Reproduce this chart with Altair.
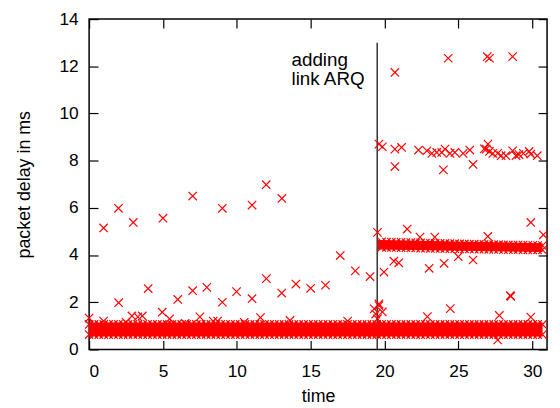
import altair as alt
import pandas as pd

# ---------------- data (time in s, packet delay in ms) ----------------
# isolated samples
scatter_t = [0.98, 1.99, 2.99, 5.0, 7.01, 9.02, 11.03, 11.99, 13.05,
             0.0, 0.98, 2.0, 2.9, 3.3, 3.6, 4.0, 4.95, 5.45, 6.0, 7.01, 7.5, 7.97,
             8.4, 8.7, 9.02, 9.98, 11.03, 11.6, 12.0, 13.04, 13.6, 14.0, 15.0, 16.0,
             17.0, 17.5, 18.02, 19.02, 2.5, 6.5, 10.5,
             19.4, 19.62, 19.3, 19.85, 19.62, 19.52,
             19.96, 20.63, 20.96, 23.02, 24.03, 24.99, 25.99, 22.9, 24.45, 27.77,
             29.9, 27.66, 28.51, 28.55,
             19.52, 21.53, 22.4, 23.4, 26.99, 29.9, 30.75,
             19.62, 19.85, 20.7, 21.15, 20.7, 22.3, 22.87, 23.2, 23.53, 23.87, 24.09,
             24.43, 24.76, 25.32, 25.77, 23.98, 25.99, 27.0, 26.88, 27.1, 27.33,
             27.66, 27.89, 28.22, 28.67, 28.9, 29.1, 29.4, 29.79, 29.9, 30.34, 26.75,
             20.7, 24.31, 26.95, 27.1, 28.67]
scatter_d = [5.15, 5.98, 5.38, 5.56, 6.5, 5.98, 6.12, 6.98, 6.4,
             1.33, 1.2, 1.98, 1.42, 1.38, 1.42, 2.58, 1.58, 1.3, 2.12, 2.49, 1.38, 2.63,
             1.2, 1.2, 2.0, 2.45, 2.15, 1.35, 3.0, 2.39, 1.23, 2.77, 2.59, 2.72,
             3.98, 1.2, 3.33, 3.09, 1.15, 1.1, 1.15,
             1.5, 1.86, 1.72, 1.59, 1.93, 1.3,
             3.28, 3.74, 3.67, 3.44, 3.65, 3.93, 3.79, 1.39, 1.73, 1.44,
             1.37, 0.4, 2.28, 2.25,
             4.96, 5.1, 4.76, 4.76, 4.79, 5.38, 4.86,
             8.7, 8.59, 8.49, 8.56, 7.75, 8.45, 8.42, 8.31, 8.35, 8.35, 8.49,
             8.31, 8.35, 8.31, 8.45, 7.61, 7.84, 8.7, 8.49, 8.39, 8.31,
             8.31, 8.21, 8.21, 8.42, 8.21, 8.26, 8.31, 8.39, 8.28, 8.21, 8.5,
             11.74, 12.34, 12.41, 12.34, 12.41]

# dense low-delay band: sample times along its edges and the core it fills
low_edge_t = [0.00, 0.33, 0.66, 0.99, 1.32, 1.65, 1.98, 2.31, 2.64, 2.97, 3.30, 3.63,
              3.96, 4.29, 4.62, 4.95, 5.28, 5.61, 5.94, 6.27, 6.60, 6.93, 7.26, 7.59,
              7.92, 8.25, 8.58, 8.91, 9.24, 9.57, 9.90, 10.23, 10.56, 10.89, 11.22,
              11.55, 11.88, 12.21, 12.54, 12.87, 13.20, 13.53, 13.86, 14.19, 14.52,
              14.85, 15.18, 15.51, 15.84, 16.17, 16.50, 16.83, 17.16, 17.49, 17.82,
              18.15, 18.48, 18.81, 19.14, 19.47, 19.80, 20.13, 20.46, 20.79, 21.12,
              21.45, 21.78, 22.11, 22.44, 22.77, 23.10, 23.43, 23.76, 24.09, 24.42,
              24.75, 25.08, 25.41, 25.74, 26.07, 26.40, 26.73, 27.06, 27.39, 27.72,
              28.05, 28.38, 28.71, 29.04, 29.37, 29.70, 30.03, 30.36, 30.69]
low_edge_bottom = 0.63
low_edge_top = 1.06
low_core_t = [0.0, 30.7]
low_core_lo = [0.55, 0.55]
low_core_hi = [1.14, 1.14]

# dense band around 4.4 ms after link ARQ is added
mid_edge_t = [19.80, 20.13, 20.46, 20.79, 21.12, 21.45, 21.78, 22.11, 22.44, 22.77,
              23.10, 23.43, 23.76, 24.09, 24.42, 24.75, 25.08, 25.41, 25.74, 26.07,
              26.40, 26.73, 27.06, 27.39, 27.72, 28.05, 28.38, 28.71, 29.04, 29.37,
              29.70, 30.03, 30.36, 30.69]
mid_edge_top = [4.56, 4.55, 4.55, 4.54, 4.54, 4.53, 4.53, 4.52, 4.52, 4.51,
                4.50, 4.50, 4.49, 4.49, 4.48, 4.48, 4.47, 4.47, 4.46, 4.46,
                4.45, 4.45, 4.45, 4.44, 4.44, 4.43, 4.43, 4.42, 4.42, 4.42,
                4.41, 4.41, 4.40, 4.40]
mid_edge_bottom = [4.33, 4.33, 4.32, 4.32, 4.31, 4.31, 4.30, 4.30, 4.29, 4.29,
                   4.28, 4.28, 4.28, 4.27, 4.27, 4.27, 4.26, 4.26, 4.26, 4.25,
                   4.25, 4.25, 4.24, 4.24, 4.24, 4.23, 4.23, 4.23, 4.23, 4.22,
                   4.22, 4.22, 4.22, 4.22]
mid_core_t = [19.55, 30.7]
mid_core_lo = [4.24, 4.13]
mid_core_hi = [4.64, 4.50]

# event marker
marker_t = [19.5]
marker_lo = [0.0]
marker_hi = [13.0]
label_t = [13.7]
label_d = [12.0]
label_text = ["adding\nlink ARQ"]

x_ticks = [0, 5, 10, 15, 20, 25, 30]
y_ticks = [0, 2, 4, 6, 8, 10, 12, 14]

# ---------------- tables ----------------
pts_t = list(scatter_t) + list(low_edge_t) + list(low_edge_t) + list(mid_edge_t) + list(mid_edge_t)
pts_d = (list(scatter_d) + [low_edge_bottom] * len(low_edge_t) + [low_edge_top] * len(low_edge_t)
         + list(mid_edge_top) + list(mid_edge_bottom))
pts = pd.DataFrame({"t": pts_t, "d": pts_d})
low_core = pd.DataFrame({"t": low_core_t, "lo": low_core_lo, "hi": low_core_hi})
mid_core = pd.DataFrame({"t": mid_core_t, "lo": mid_core_lo, "hi": mid_core_hi})
marker = pd.DataFrame({"t": marker_t, "lo": marker_lo, "hi": marker_hi})
label = pd.DataFrame({"t": label_t, "d": label_d, "txt": label_text})

RED = "#ff0000"
XPATH = "M-1,-1L1,1M-1,1L1,-1"
FONT = "Liberation Sans"
xs = alt.Scale(domain=[0, 31], nice=False, zero=False)
ys = alt.Scale(domain=[0, 14], nice=False, zero=False)

common_axis = dict(offset=-9, tickSize=9, domain=False, grid=False, tickColor="black",
                   tickWidth=1.2)

rule = alt.Chart(marker).mark_rule(color="black", strokeWidth=1.2).encode(
    x=alt.X("t:Q", scale=xs, axis=alt.Axis(orient="top", values=x_ticks, labels=False,
                                            title=None, **common_axis)),
    y=alt.Y("lo:Q", scale=ys, axis=alt.Axis(orient="right", values=y_ticks, labels=False,
                                             title=None, **common_axis)),
    y2="hi:Q",
)

low_area = alt.Chart(low_core).mark_area(color=RED, opacity=1).encode(
    x=alt.X("t:Q", scale=xs, axis=None),
    y=alt.Y("lo:Q", scale=ys, axis=None),
    y2="hi:Q",
)
mid_area = alt.Chart(mid_core).mark_area(color=RED, opacity=1).encode(
    x=alt.X("t:Q", scale=xs, axis=None),
    y=alt.Y("lo:Q", scale=ys, axis=None),
    y2="hi:Q",
)

points = alt.Chart(pts).mark_point(shape=XPATH, filled=False, color=RED, strokeWidth=1.2,
                                   size=72, opacity=1).encode(
    x=alt.X("t:Q", scale=xs, axis=alt.Axis(orient="bottom", values=x_ticks, title="time",
                                            labelPadding=13, titlePadding=8, **common_axis)),
    y=alt.Y("d:Q", scale=ys, axis=alt.Axis(orient="left", values=y_ticks,
                                            title="packet delay in ms", labelPadding=11,
                                            titlePadding=26, **common_axis)),
)

text = alt.Chart(label).mark_text(align="left", baseline="alphabetic", lineBreak="\n",
                                  fontSize=19, font=FONT, lineHeight=19.3,
                                  color="black").encode(
    x=alt.X("t:Q", scale=xs, axis=None),
    y=alt.Y("d:Q", scale=ys, axis=None),
    text="txt:N",
)

chart = alt.layer(rule, low_area, mid_area, points, text).resolve_axis(
    x="independent", y="independent"
).properties(
    width=463, height=334,
    autosize=alt.AutoSizeParams(type="none"),
    padding={"left": 82, "top": 9, "right": 5, "bottom": 57},
    background="white",
).configure_view(
    stroke="black", strokeWidth=1.5
).configure_axis(
    labelFont=FONT, titleFont=FONT, labelFontSize=17.5, titleFontSize=18,
    labelColor="black", titleColor="black", titleFontWeight="normal",
)

chart.save("out.html", embed_options={"renderer": "svg", "actions": False})
